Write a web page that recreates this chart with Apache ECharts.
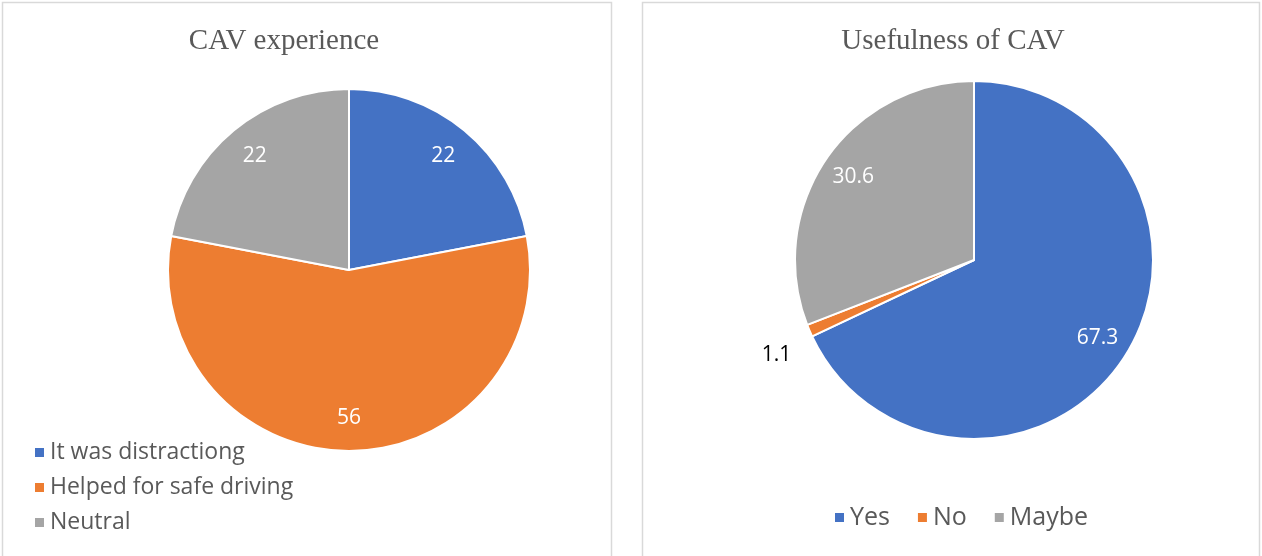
<!DOCTYPE html>
<html lang="en">
<head>
    <meta charset="UTF-8">
    <title>CAV experience / Usefulness of CAV</title>
    <script src="https://cdn.jsdelivr.net/npm/echarts@6.0.0/dist/echarts.min.js"></script>
    <style>
        * { margin: 0; padding: 0; box-sizing: border-box; }
        body { background: #fff; }
        #chart { width: 1262px; height: 556px; }
    </style>
</head>
<body>
    <div id="chart"></div>

    <script>
        // CAV experience
        const experienceNames = ['It was distractiong', 'Helped for safe driving', 'Neutral'];
        const experienceValues = [22, 56, 22];

        // Usefulness of CAV
        const usefulNames = ['Yes', 'No', 'Maybe'];
        const usefulValues = [67.3, 1.1, 30.6];

        const colors = ['#4472C4', '#ED7D31', '#A5A5A5'];
        const textColor = '#595959';
        const sansFont = '"Open Sans", Lato, sans-serif';
        const serifFont = '"Liberation Serif", "DejaVu Serif", serif';

        const chart = echarts.init(document.getElementById('chart'));

        function toData(names, values) {
            return names.map((n, i) => ({ name: n, value: values[i] }));
        }

        // slice series (only tiny slices labelled outside) + transparent overlay
        // that places the inside labels at ~0.8r
        function pieSeries(names, values, center, r) {
            const main = {
                type: 'pie',
                center: center,
                radius: [0, r],
                startAngle: 90,
                clockwise: true,
                avoidLabelOverlap: false,
                itemStyle: { borderColor: '#fff', borderWidth: 2 },
                emphasis: { disabled: true },
                labelLayout: { dx: 18, dy: 11 },
                data: toData(names, values).map(d => ({
                    name: d.name,
                    value: d.value,
                    label: d.value < 5 ? {
                        show: true, position: 'outside', color: '#000',
                        fontFamily: sansFont, fontSize: 21, formatter: '{c}'
                    } : { show: false },
                    labelLine: { show: false, length: 34, length2: 0 }
                }))
            };
            const overlay = {
                type: 'pie',
                center: center,
                radius: [r * 0.6, r],
                startAngle: 90,
                clockwise: true,
                silent: true,
                avoidLabelOverlap: false,
                itemStyle: { color: 'rgba(0,0,0,0)' },
                emphasis: { disabled: true },
                label: {
                    show: true, position: 'inside', color: '#fff',
                    fontFamily: sansFont, fontSize: 21, formatter: '{c}'
                },
                labelLine: { show: false },
                data: toData(names, values).map(d => d.value < 5
                    ? { name: d.name, value: d.value, label: { show: false } }
                    : d)
            };
            return [main, overlay];
        }

        const option = {
            color: colors,
            animation: false,
            title: [
                {
                    text: 'CAV experience', left: 279, top: 22, textAlign: 'center',
                    textStyle: { fontFamily: serifFont, fontSize: 29, fontWeight: 'normal', color: textColor }
                },
                {
                    text: 'Usefulness of CAV', left: 948, top: 22, textAlign: 'center',
                    textStyle: { fontFamily: serifFont, fontSize: 29, fontWeight: 'normal', color: textColor }
                }
            ],
            legend: [
                {
                    data: experienceNames,
                    orient: 'vertical',
                    left: 28, top: 436,
                    itemWidth: 11, itemHeight: 11, itemGap: 12,
                    icon: 'rect',
                    selectedMode: false,
                    textStyle: { fontFamily: sansFont, fontSize: 23, color: textColor }
                },
                {
                    data: usefulNames,
                    orient: 'horizontal',
                    left: 828, top: 500,
                    itemWidth: 11, itemHeight: 11, itemGap: 26,
                    icon: 'rect',
                    selectedMode: false,
                    textStyle: { fontFamily: sansFont, fontSize: 25, color: textColor }
                }
            ],
            graphic: [
                {
                    type: 'rect', silent: true,
                    shape: { x: 2.5, y: 2.5, width: 609, height: 570 },
                    style: { fill: 'none', stroke: '#d9d9d9', lineWidth: 1.5 }
                },
                {
                    type: 'rect', silent: true,
                    shape: { x: 642.5, y: 2.5, width: 617, height: 570 },
                    style: { fill: 'none', stroke: '#d9d9d9', lineWidth: 1.5 }
                }
            ],
            series: [
                ...pieSeries(experienceNames, experienceValues, [349, 270], 181),
                ...pieSeries(usefulNames, usefulValues, [974, 260], 179)
            ]
        };

        chart.setOption(option);
    </script>
</body>
</html>
